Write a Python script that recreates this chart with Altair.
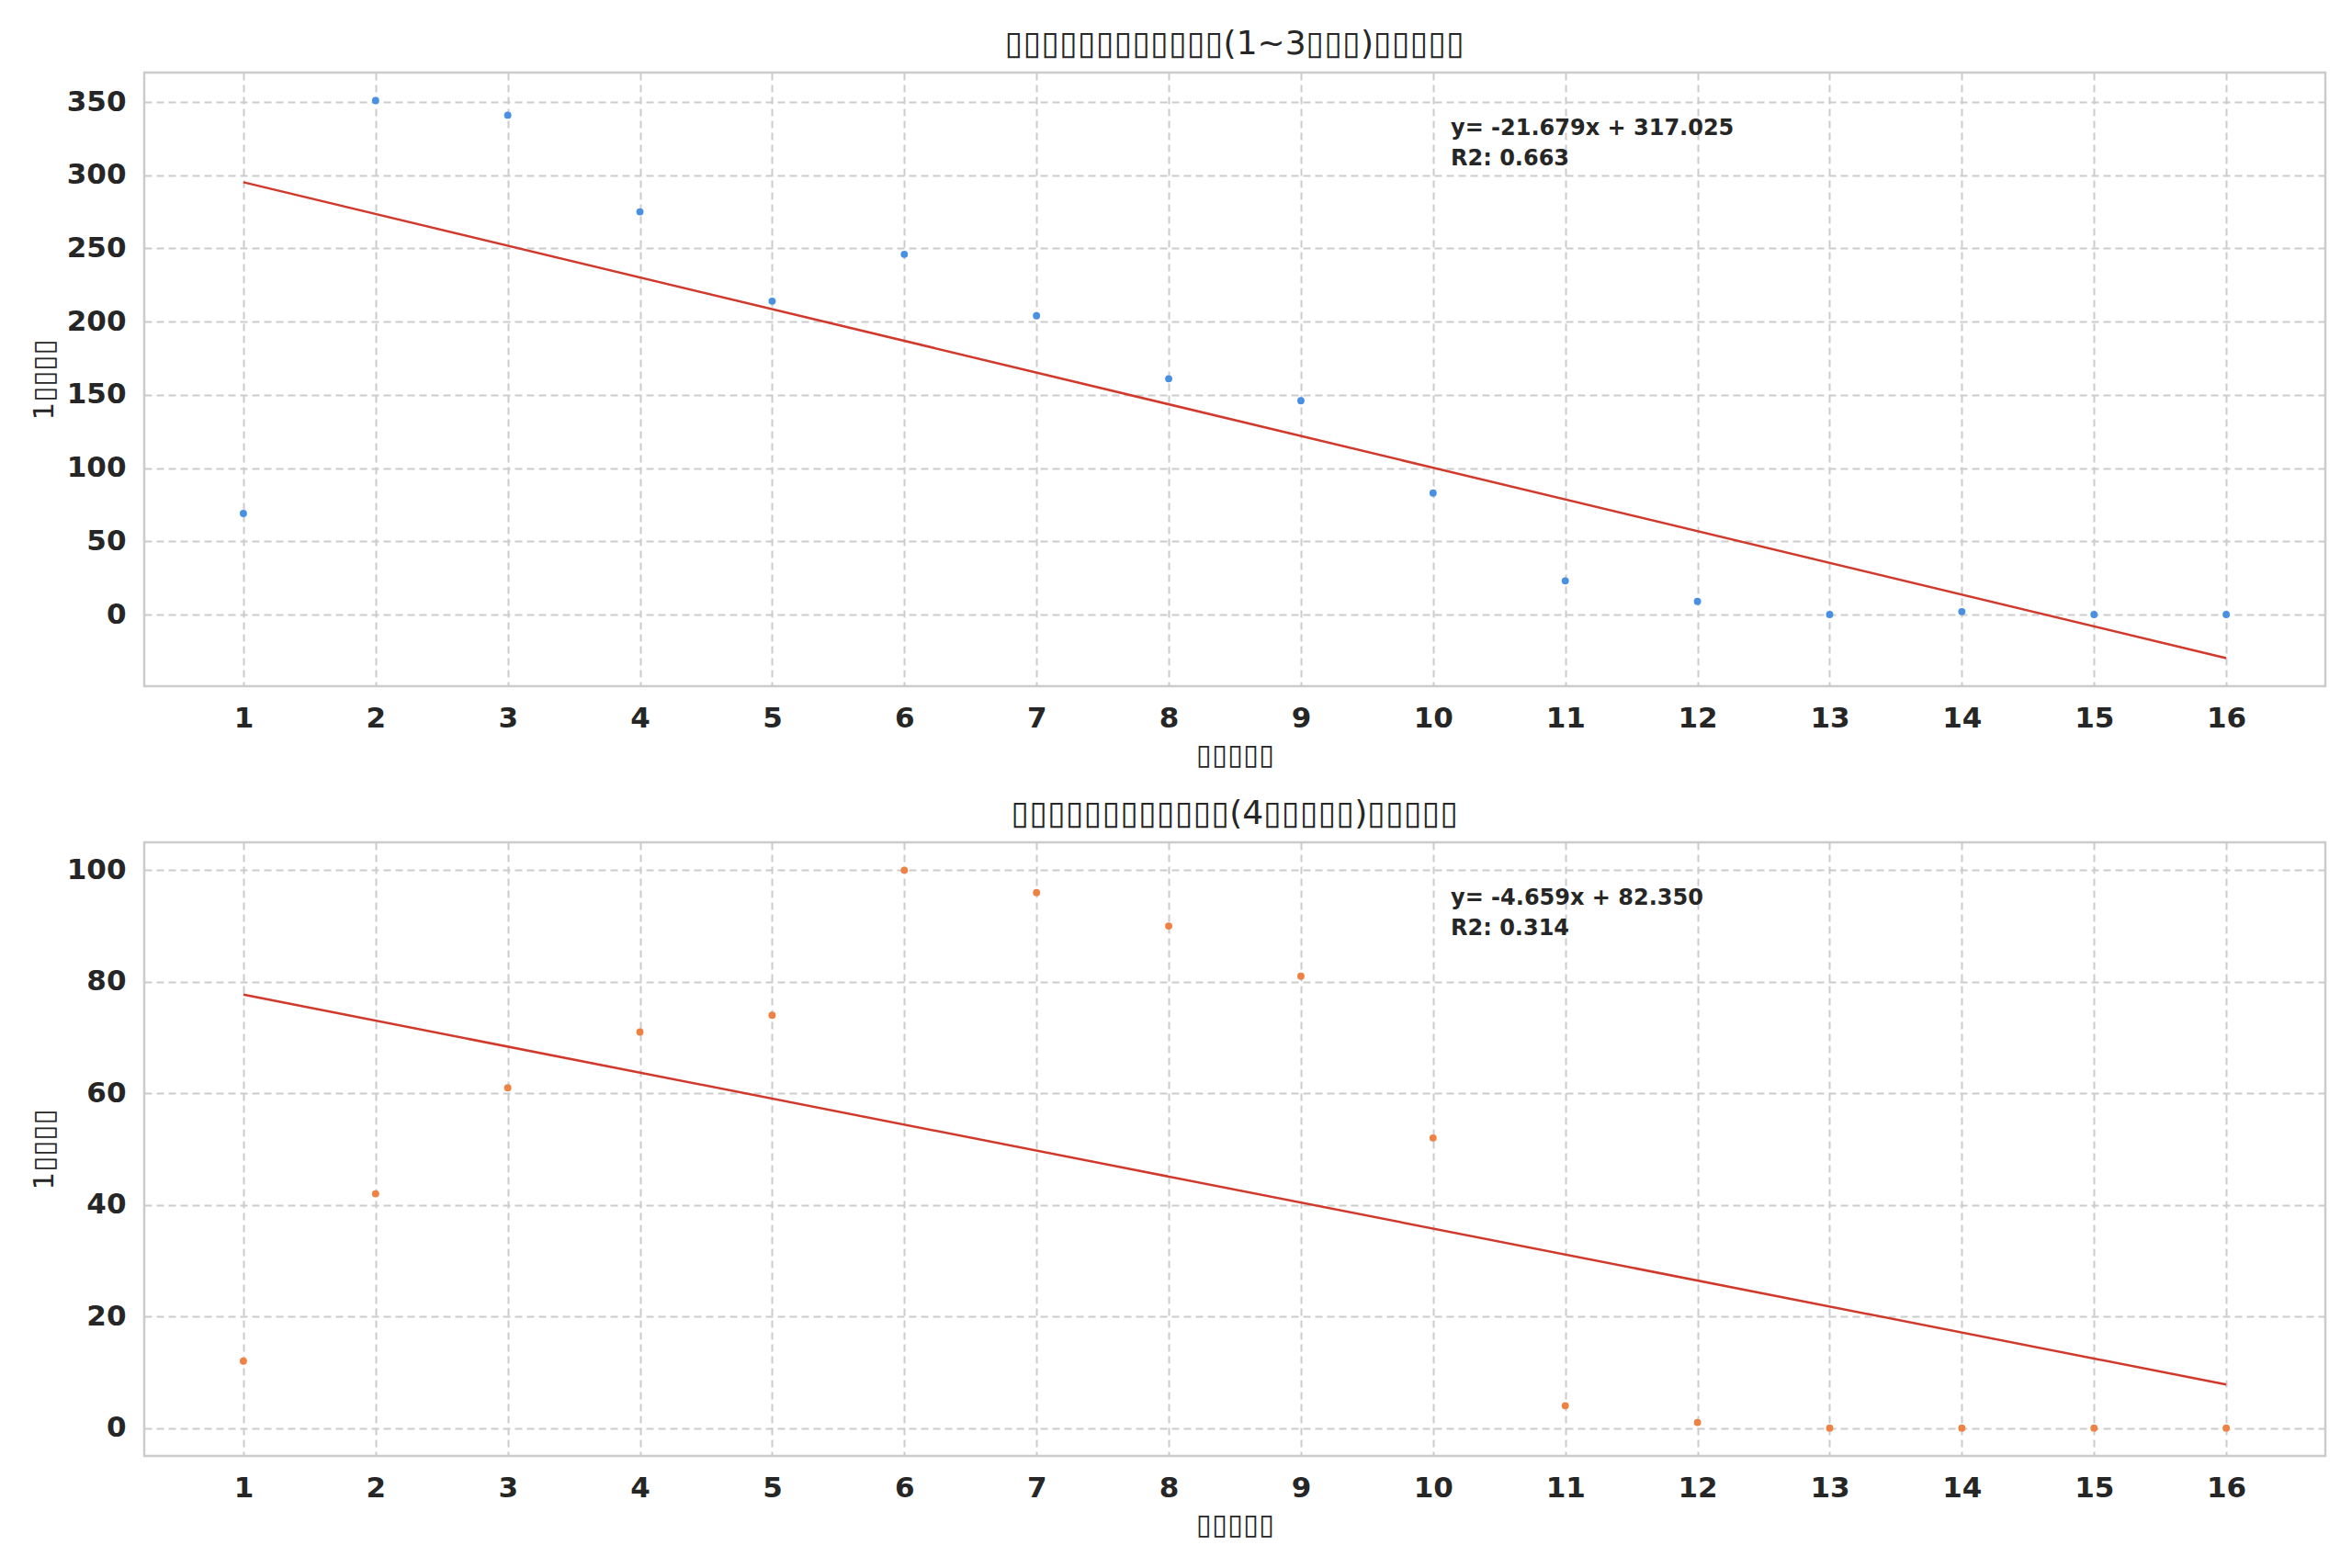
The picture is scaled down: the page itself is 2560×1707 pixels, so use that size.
import altair as alt
import pandas as pd

# ---- data ----
x_vals = list(range(1, 17))
y_small = [69, 351, 341, 275, 214, 246, 204, 161, 146, 83, 23, 9, 0, 2, 0, 0]
y_large = [12, 42, 61, 71, 74, 100, 96, 90, 81, 52, 4, 1, 0, 0, 0, 0]

T = "\u25af"
title_top = T * 12 + "(1~3" + T * 3 + ")" + T * 5
title_bot = T * 12 + "(4" + T * 5 + ")" + T * 5
x_title = T * 5
y_title = "1" + T * 4

eq_top = ["y= -21.679x + 317.025", "R2: 0.663"]
eq_bot = ["y= -4.659x + 82.350", "R2: 0.314"]

ticks_top = [0, 50, 100, 150, 200, 250, 300, 350]
ticks_bot = [0, 20, 40, 60, 80, 100]

W, H = 2374, 668
FONT = "DejaVu Sans"
DARK = "#262626"


def panel(yvals, color, title, eq, ydom, yticks):
    df = pd.DataFrame({"x": x_vals, "y": yvals})
    base = alt.Chart(df)
    xenc = alt.X(
        "x:Q",
        scale=alt.Scale(domain=[0.25, 16.75], nice=False, zero=False),
        axis=alt.Axis(values=x_vals, title=x_title, format="d"),
    )
    yenc = alt.Y(
        "y:Q",
        scale=alt.Scale(domain=ydom, nice=False, zero=False),
        axis=alt.Axis(values=yticks, title=y_title, format="d"),
    )
    pts = base.mark_circle(size=62, color=color, opacity=1).encode(x=xenc, y=yenc)
    line = (
        base.transform_regression("x", "y")
        .mark_line(color="#d0392b", strokeWidth=2.5)
        .encode(x="x:Q", y="y:Q")
    )
    txt = alt.Chart(pd.DataFrame({"a": [0]})).mark_text(
        align="left", baseline="top", font=FONT, fontSize=24, fontWeight="bold",
        color=DARK, lineHeight=33,
    ).encode(x=alt.value(1422), y=alt.value(49), text=alt.value(eq))
    return alt.layer(line, pts, txt).properties(
        width=W, height=H,
        title=alt.TitleParams(title, font=FONT, fontSize=36, fontWeight="normal",
                              color=DARK, offset=12),
    )


top = panel(y_small, "#4a90e2", title_top, eq_top, [-48.9, 370.1], ticks_top)
bot = panel(y_large, "#ee8244", title_bot, eq_bot, [-5, 105], ticks_bot)

chart = (
    alt.vconcat(top, bot, spacing=27)
    .properties(padding={"left": 23, "top": 20, "right": 5, "bottom": 5})
    .configure_view(stroke="#cccccc", strokeWidth=2.5)
    .configure_axis(
        grid=True, gridColor="#cccccc", gridDash=[8, 5], gridWidth=2,
        domain=False, ticks=False,
        labelFont=FONT, labelFontSize=31, labelFontWeight="bold", labelColor=DARK,
        labelPadding=20,
        titleFont=FONT, titleFontSize=31, titleFontWeight="normal", titleColor=DARK,
        titlePadding=10,
    )
    .configure_axisY(titlePadding=8)
)

chart.save("out.html", embed_options={"renderer": "svg", "actions": False})
